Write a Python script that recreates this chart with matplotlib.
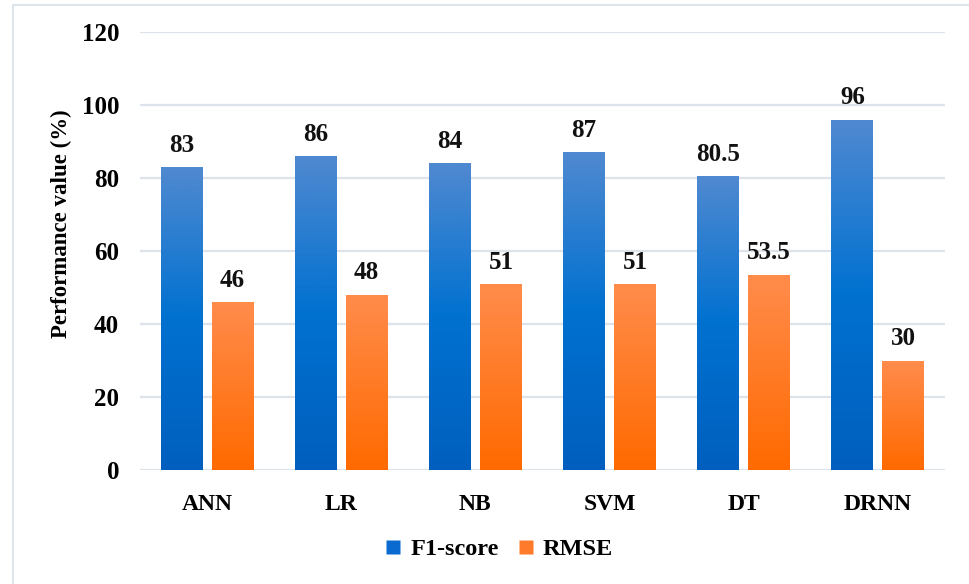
import numpy as np
import matplotlib
matplotlib.use("Agg")
import matplotlib.pyplot as plt
from matplotlib.patches import Rectangle
from matplotlib.colors import LinearSegmentedColormap
from matplotlib.lines import Line2D

categories = ["ANN", "LR", "NB", "SVM", "DT", "DRNN"]
f1_score = [83, 86, 84, 87, 80.5, 96]
rmse = [46, 48, 51, 51, 53.5, 30]
f1_labels = ["83", "86", "84", "87", "80.5", "96"]
rmse_labels = ["46", "48", "51", "51", "53.5", "30"]
y_ticks = [0, 20, 40, 60, 80, 100, 120]

serif = ["Liberation Serif", "DejaVu Serif"]
plt.rcParams["font.family"] = serif
plt.rcParams["font.weight"] = "bold"

blue_cmap = LinearSegmentedColormap.from_list(
    "blue_grad", [(0.0, "#005fbe"), (0.5, "#0071d0"), (1.0, "#5089d0")])
orange_cmap = LinearSegmentedColormap.from_list(
    "orange_grad", [(0.0, "#ff6a00"), (1.0, "#ff8c4c")])

fig = plt.figure(figsize=(9.69, 5.84), dpi=100)
ax = fig.add_axes([140 / 969, 1 - 470 / 584, 805 / 969, 438 / 584])

# Outer frame (only top and left edges fall inside the canvas)
frame = Rectangle((13 / 969, -0.05), 1.1, 1 - 5 / 584 + 0.05,
                  transform=fig.transFigure, fill=False,
                  edgecolor="#dfe5ec", linewidth=1.5, zorder=0)
fig.patches.append(frame)

x = np.arange(len(categories))
width = 0.313
offset = 0.19


def gradient_bar(ax, xc, h, cmap):
    bars = ax.bar(xc, h, width, color="none", edgecolor="none", zorder=3)
    rect = bars[0]
    grad = np.linspace(0, 1, 256).reshape(-1, 1)
    im = ax.imshow(grad, cmap=cmap, origin="lower", aspect="auto",
                   extent=[xc - width / 2, xc + width / 2, 0, h], zorder=3)
    im.set_clip_path(rect)


for i in range(len(categories)):
    gradient_bar(ax, x[i] - offset, f1_score[i], blue_cmap)
    gradient_bar(ax, x[i] + offset, rmse[i], orange_cmap)
    ax.text(x[i] - offset, f1_score[i] + 4.2, f1_labels[i], ha="center",
            va="baseline", fontsize=18, fontweight="bold", color="#111111")
    ax.text(x[i] + offset, rmse[i] + 4.2, rmse_labels[i], ha="center",
            va="baseline", fontsize=18, fontweight="bold", color="#111111")

ax.set_xlim(-0.5, len(categories) - 0.5)
ax.set_ylim(0, 120)
ax.set_yticks(y_ticks)
ax.set_yticklabels([str(t) for t in y_ticks], fontsize=18, fontweight="bold")
ax.set_xticks(x)
ax.set_xticklabels(categories, fontsize=17, fontweight="bold")
ax.tick_params(axis="both", length=0)
ax.tick_params(axis="y", pad=15)
ax.tick_params(axis="x", pad=17)
ax.grid(axis="y", color="#dde3ea", linewidth=1.6, zorder=0)
ax.set_axisbelow(True)
for s in ax.spines.values():
    s.set_visible(False)
ax.set_ylabel("Performance value (%)", fontsize=16.5, fontweight="bold")
ax.yaxis.set_label_coords(-0.085, 0.562)

handles = [Line2D([], [], marker="s", linestyle="none", markersize=10,
                  markerfacecolor="#0a6ad0", markeredgecolor="none"),
           Line2D([], [], marker="s", linestyle="none", markersize=10,
                  markerfacecolor="#ff7a2a", markeredgecolor="none")]
fig.legend(handles, ["F1-score", "RMSE"], loc="center",
           bbox_to_anchor=(497 / 969, 1 - 549 / 584), ncol=2, frameon=False,
           prop={"family": serif, "weight": "bold", "size": 17.5},
           handletextpad=0.2, columnspacing=0.6, handlelength=1.0)

fig.savefig("out.png", dpi=100)
